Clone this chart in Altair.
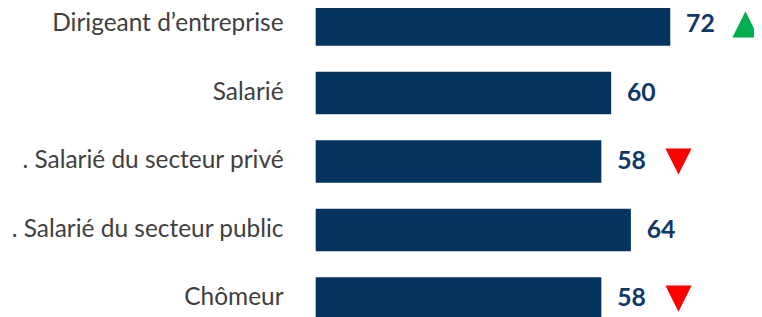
import altair as alt
import pandas as pd

categories = [
    "Dirigeant d\u2019entreprise",
    "Salari\u00e9",
    ". Salari\u00e9 du secteur priv\u00e9",
    ". Salari\u00e9 du secteur public",
    "Ch\u00f4meur",
]
values = [72, 60, 58, 64, 58]
trends = ["up", "", "down", "", "down"]

df = pd.DataFrame({"cat": categories, "val": values, "trend": trends})

BAR = "#04335f"
TXT = "#0f3866"

y_enc = alt.Y(
    "cat:N",
    sort=categories,
    scale=alt.Scale(paddingInner=0.38, paddingOuter=0, range=[-6.5, 313.5]),
    axis=alt.Axis(
        title=None, domain=False, ticks=False, labelPadding=33, labelLimit=0,
        labelFont="Lato", labelFontSize=24.7, labelColor="#404040", labelAlign="right",
    ),
)
x_enc = alt.X("val:Q", scale=alt.Scale(domain=[0, 89], nice=False, zero=True), axis=None)

base = alt.Chart(df).encode(y=y_enc, x=x_enc)

bars = base.mark_bar(color=BAR)
labels = base.mark_text(
    align="left", baseline="middle", dx=16, font="Lato", fontSize=25,
    fontWeight="bold", color=TXT,
).encode(text="val:Q")

up = alt.Chart(df).transform_filter(alt.datum.trend == "up").mark_point(
    shape="M-1,1L0,-1L1,1Z", filled=True, size=700, color="#00b050", opacity=1,
    strokeWidth=0,
).encode(y=y_enc, x=x_enc, xOffset=alt.value(76))

down = alt.Chart(df).transform_filter(alt.datum.trend == "down").mark_point(
    shape="M-1,-1L1,-1L0,1Z", filled=True, size=700, color="#ff0000", opacity=1,
    strokeWidth=0,
).encode(y=y_enc, x=x_enc, xOffset=alt.value(78))

chart = alt.layer(bars, labels, up, down).properties(
    width=443, height=309,
    autosize=alt.AutoSizeParams(type="none"),
    padding={"left": 311, "top": 0, "right": 0, "bottom": 0},
).configure_view(stroke=None)

chart.save("out.html", embed_options={"renderer": "svg", "actions": False})
